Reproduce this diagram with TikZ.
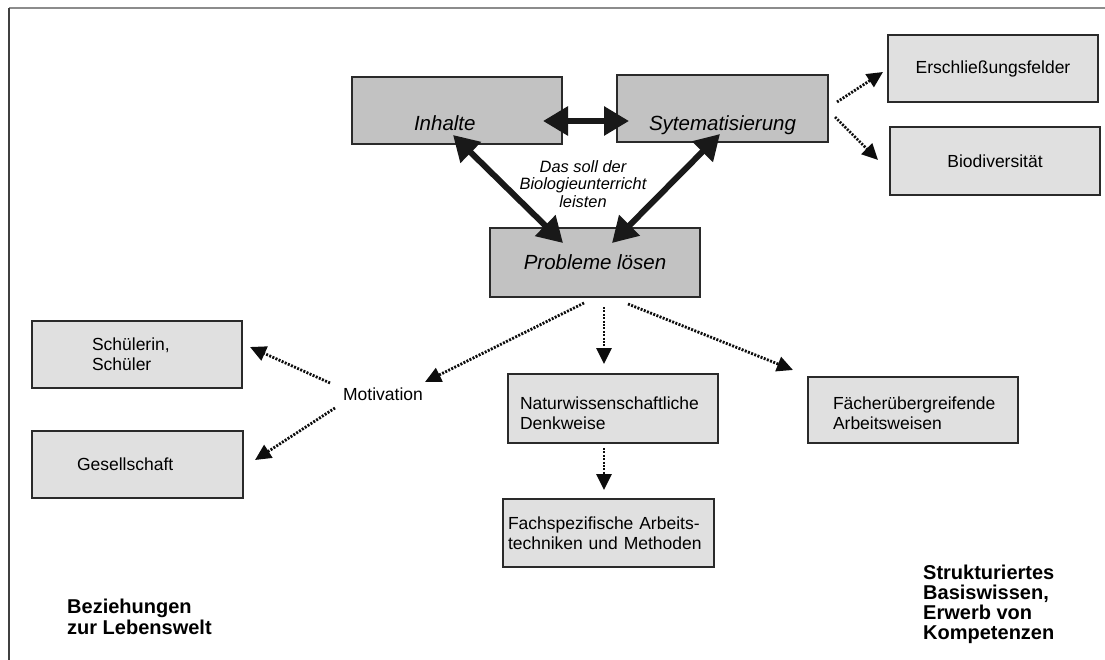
\documentclass[tikz,border=0pt]{standalone}
\usepackage{fontspec}
\setmainfont{Liberation Sans}
\usetikzlibrary{arrows.meta}
\definecolor{darkfill}{HTML}{C2C2C2}
\definecolor{lightfill}{HTML}{E0E0E0}
\definecolor{boxline}{HTML}{2A2A2A}
\tikzset{
  boxbase/.style={draw=boxline, line width=1.3pt, rectangle, inner sep=0pt, minimum width=210pt},
  darkbox/.style={boxbase, fill=darkfill, font=\fontsize{20.5}{24}\selectfont\itshape},
  lightbox/.style={boxbase, fill=lightfill, font=\fontsize{17.5}{20}\selectfont},
  dotarrow/.style={line width=2.8pt, color=black!95, dash pattern=on 2pt off 1.4pt, -{Triangle[length=16pt,width=15pt]}},
  bigarrow/.style={line width=6pt, color=black!90, {Triangle[length=25pt,width=28pt]}-{Triangle[length=25pt,width=28pt]}},
  plaintext/.style={inner sep=0pt, font=\fontsize{17.5}{20}\selectfont},
  boldtext/.style={inner sep=0pt, align=left, font=\fontsize{20}{21}\selectfont\bfseries}
}
\begin{document}
\begin{tikzpicture}[x=1pt,y=-1pt]
\useasboundingbox (0,0) rectangle (1105,660);
% frame
\draw[color=black!45, line width=1.5pt] (9,8) -- (1105,8);
\draw[color=black!75, line width=1.2pt] (9,8) -- (9,660);

% main boxes
\node[darkbox, minimum height=67pt, text width=86pt, align=left, text height=40pt, text depth=0pt] (inh) at (457,110.5) {Inhalte};
\node[darkbox, minimum height=67pt, minimum width=211pt, align=center, text height=44pt, text depth=0pt] (sys) at (722.5,108.5) {Sytematisierung};
\node[darkbox, minimum height=69pt, align=center] (prob) at (595,262.5) {Probleme lösen};

% right boxes
\node[lightbox, minimum height=67pt, align=center] (ersch) at (993,68.5) {Erschließungsfelder};
\node[lightbox, minimum height=68pt, align=center] (bio) at (995,161) {Biodiversität};

% left boxes
\node[lightbox, minimum height=67pt, text width=90pt, align=left] (schuel) at (137,354.5) {Schülerin,\\Schüler};
\node[lightbox, minimum height=67pt, minimum width=211pt, text width=121pt, align=left] (gesell) at (137.5,464.5) {Gesellschaft};

% lower boxes
\node[lightbox, minimum height=69pt, text width=186pt, align=left, text height=23pt] (natur) at (613,408.5) {Naturwissenschaftliche\\Denkweise};
\node[lightbox, minimum height=66pt, text width=160pt, align=left, text height=19pt] (faech) at (913,410) {Fächerübergreifende\\Arbeitsweisen};
\node[lightbox, minimum height=68pt, minimum width=211pt, text width=201pt, align=left] (fach) at (608.5,533) {Fachspezifische Arbeits-\\techniken und Methoden};

% texts
\node[inner sep=0pt, align=center, font=\fontsize{16.4}{17.5}\selectfont\itshape] (center) at (583,184) {Das soll der\\Biologieunterricht\\leisten};
\node[plaintext] (motiv) at (383,394) {Motivation};
\node[boldtext, anchor=west] (bez) at (67,616.5) {Beziehungen\\zur Lebenswelt};
\node[boldtext, anchor=west, font=\fontsize{20}{20}\selectfont\bfseries] (struk) at (923,604.5) {Strukturiertes\\Basiswissen,\\Erwerb von\\Kompetenzen};

% connector end points
\coordinate (inhR) at (543,121);
\coordinate (sysL) at (629,121);
\coordinate (inhB) at (453,135);
\coordinate (probL) at (563,243);
\coordinate (sysB) at (720,134);
\coordinate (probR) at (612,243);
\coordinate (sysE1) at (837,102);
\coordinate (erschW) at (883,72);
\coordinate (sysE2) at (835,117);
\coordinate (bioW) at (878,160);
\coordinate (probS1) at (584,303);
\coordinate (motivNE) at (425,382);
\coordinate (probS2) at (604,307);
\coordinate (naturN) at (604,364);
\coordinate (probS3) at (628,304);
\coordinate (faechNW) at (793,370);
\coordinate (motivW1) at (330,383);
\coordinate (schuelE) at (250,347);
\coordinate (motivW2) at (335,408);
\coordinate (gesellE) at (255,460);
\coordinate (naturS) at (604,448);
\coordinate (fachN) at (604,490);

% thick arrows
\draw[bigarrow] (inhR) -- (sysL);
\draw[bigarrow] (inhB) -- (probL);
\draw[bigarrow] (sysB) -- (probR);

% dotted arrows
\draw[dotarrow] (sysE1) -- (erschW);
\draw[dotarrow] (sysE2) -- (bioW);
\draw[dotarrow] (probS1) -- (motivNE);
\draw[dotarrow] (probS2) -- (naturN);
\draw[dotarrow] (probS3) -- (faechNW);
\draw[dotarrow] (motivW1) -- (schuelE);
\draw[dotarrow] (motivW2) -- (gesellE);
\draw[dotarrow] (naturS) -- (fachN);
\end{tikzpicture}
\end{document}
